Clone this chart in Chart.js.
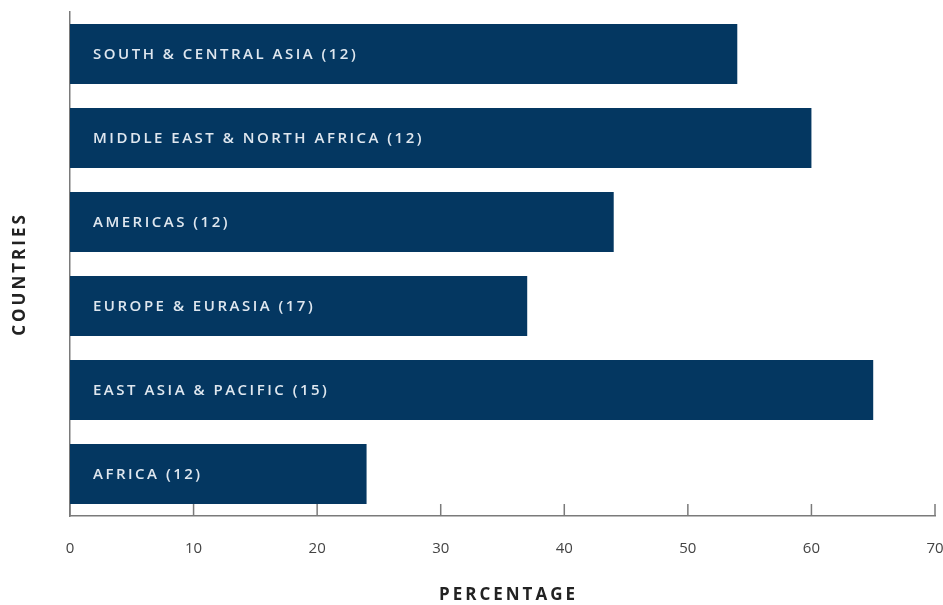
<!DOCTYPE html>
<html>
<head>
<meta charset="utf-8">
<script src="https://cdn.jsdelivr.net/npm/chart.js@4"></script>
<style>
  html, body { margin: 0; padding: 0; background: #fff; }
  #wrap { width: 943px; height: 605px; }
</style>
</head>
<body>
<div id="wrap"><canvas id="chart"></canvas></div>
<script>
const regions = [
  "SOUTH & CENTRAL ASIA (12)",
  "MIDDLE EAST & NORTH AFRICA (12)",
  "AMERICAS (12)",
  "EUROPE & EURASIA (17)",
  "EAST ASIA & PACIFIC (15)",
  "AFRICA (12)",
];
const percentages = [54, 60, 44, 37, 65, 24];
const xTicks = [0, 10, 20, 30, 40, 50, 60, 70];
const xTitle = "PERCENTAGE";
const yTitle = "COUNTRIES";

const barColor = "#043761";
const axisColor = "#7a7a7a";
const font = "'Open Sans', 'Noto Sans', sans-serif";

// writes the region name inside each bar
const barLabels = {
  id: "barLabels",
  afterDatasetsDraw(chart) {
    const ctx = chart.ctx;
    const meta = chart.getDatasetMeta(0);
    ctx.save();
    ctx.font = "600 15px " + font;
    ctx.letterSpacing = "2.5px";
    ctx.fillStyle = "#dfe7ef";
    ctx.textBaseline = "middle";
    meta.data.forEach((bar, i) => {
      ctx.fillText(regions[i], bar.base + 23, bar.y + 1);
    });
    ctx.restore();
  },
};

// short tick marks pointing up from the x axis, plus spaced-out axis titles
const axisExtras = {
  id: "axisExtras",
  afterDraw(chart) {
    const ctx = chart.ctx;
    const x = chart.scales.x;
    const y = chart.scales.y;
    ctx.save();
    ctx.strokeStyle = axisColor;
    ctx.lineWidth = 1.5;
    xTicks.forEach((v) => {
      const px = x.getPixelForValue(v);
      ctx.beginPath();
      ctx.moveTo(px, x.top);
      ctx.lineTo(px, x.top - 12);
      ctx.stroke();
    });

    ctx.font = "bold 17px " + font;
    ctx.letterSpacing = "3px";
    ctx.fillStyle = "#222";
    ctx.textAlign = "center";
    ctx.textBaseline = "middle";
    ctx.fillText(xTitle, (x.left + x.right) / 2 + 6, 595);

    ctx.translate(20, (y.top + y.bottom) / 2 + 10);
    ctx.rotate(-Math.PI / 2);
    ctx.fillText(yTitle, 0, 0);
    ctx.restore();
  },
};

new Chart(document.getElementById("chart"), {
  type: "bar",
  data: {
    labels: regions,
    datasets: [
      {
        data: percentages,
        backgroundColor: barColor,
        categoryPercentage: 1,
        barPercentage: 0.714,
      },
    ],
  },
  options: {
    indexAxis: "y",
    responsive: true,
    maintainAspectRatio: false,
    animation: false,
    layout: { padding: { top: 12, left: 0, right: 8, bottom: 0 } },
    plugins: { legend: { display: false }, tooltip: { enabled: false } },
    scales: {
      x: {
        min: 0,
        max: 70,
        afterBuildTicks(scale) {
          scale.ticks = xTicks.map((v) => ({ value: v }));
        },
        afterFit(scale) {
          scale.paddingLeft = 0;
          scale.paddingRight = 0;
          scale.height = 89;
        },
        grid: { display: false, drawTicks: false },
        border: { display: true, color: axisColor, width: 1.5 },
        ticks: {
          color: "#444",
          padding: 24,
          font: { family: font, size: 15 },
        },
      },
      y: {
        afterFit(scale) {
          scale.width = 70;
        },
        grid: { display: false, drawTicks: false },
        border: { display: true, color: axisColor, width: 1.5 },
        ticks: { display: false },
      },
    },
  },
  plugins: [barLabels, axisExtras],
});
</script>
</body>
</html>
